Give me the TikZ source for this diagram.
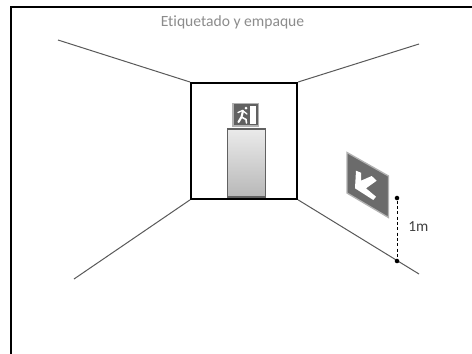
\documentclass[tikz,border=0pt]{standalone}
\usepackage{fontspec}
\setmainfont[Ligatures=CommonOff]{Carlito}
\begin{document}
\begin{tikzpicture}[x=0.75pt,y=-0.75pt,
  wall/.style={draw=black!65,line width=0.75pt},
  room/.style={draw=black,line width=1.4pt},
  door/.style={draw=black!62,line width=1.2pt,top color=black!8,bottom color=black!28},
  dot/.style={circle,fill=black,inner sep=0pt,minimum size=3.4pt},
  lbl/.style={inner sep=0pt}]
\useasboundingbox (0,0) rectangle (472,354);
\fill[white] (0,0) rectangle (472,354);
% outer frame, open at the bottom
\draw[black,line width=1.5pt] (11,354) -- (11,6.5) -- (472,6.5);
% receding wall edges
\coordinate (tl) at (58,40);
\coordinate (tr) at (419,44);
\coordinate (bl) at (74,279);
\coordinate (br) at (419,274);
% door, standing on the floor line of the back wall
\node[door,minimum width=28.5pt,minimum height=51.3pt,inner sep=0pt,anchor=south] (doorway) at (246.5,198) {};
% back wall
\node[room,minimum width=79.7pt,minimum height=87pt,inner sep=0pt,anchor=north west] (back) at (190,82) {};
\draw[wall] (tl) -- (back.north west);
\draw[wall] (tr) -- (back.north east);
\draw[wall] (bl) -- (back.south west);
\draw[wall] (br) -- (back.south east);
% exit sign above the door
\draw[draw=black!30,line width=0.9pt,fill=black!62] (233,103.5) rectangle (258.5,126);
\fill[white] (250,105.5) rectangle (255.5,123.5);
\draw[white,line width=1.6pt,line cap=round] (243,111) -- (241.5,117) -- (238.5,122);
\draw[white,line width=1.2pt,line cap=round] (241.5,117) -- (246,119.5) -- (246.5,123);
\draw[white,line width=1pt,line cap=round] (238,112.5) -- (242.5,110.5) -- (247,114);
\fill[white] (246,108) circle (1.5);
% wall sign with arrow
\draw[draw=black!30,line width=1pt,fill=black!58] (347,152.5) -- (388.5,176) -- (388.5,217.5) -- (347,193) -- cycle;
\fill[white] (356,170.7) -- (361,172.7) -- (361,180.7) -- (371.7,176) -- (376.7,180.7) -- (366,188.3) -- (376,196.7) -- (373.3,200) -- (355,188.3) -- cycle;
% height mark
\node[dot] (up) at (397,198) {};
\node[dot] (down) at (397,261) {};
\draw[black,dash pattern=on 2.4pt off 1.6pt,line width=0.7pt] (up) -- (down);
\node[lbl,anchor=west,text=black!75,font=\fontsize{11.5pt}{13pt}\selectfont] (h) at (408,227) {1m};
\node[lbl,text=black!45,font=\fontsize{11.7pt}{14pt}\selectfont] (title) at (232.5,22.5) {Etiquetado y empaque};
\end{tikzpicture}
\end{document}
